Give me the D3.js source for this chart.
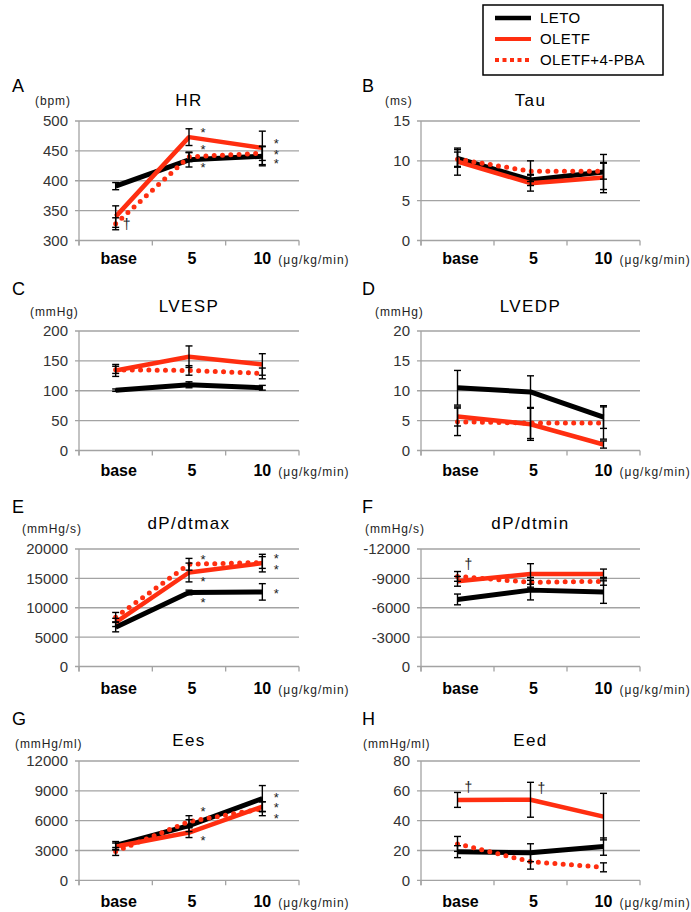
<!DOCTYPE html>
<html>
<head>
<meta charset="utf-8">
<script src="https://cdn.jsdelivr.net/npm/d3@7"></script>
<style>
  body { margin: 0; background: #fff; }
  svg text { font-family: "Liberation Sans", Arial, sans-serif; }
</style>
</head>
<body>
<div id="chart"></div>
<script>
// dose steps on the x axis, groups in draw order
var doses = ["base", "5", "10"];
var groups = ["LETO", "OLETF", "OLETF+4-PBA"];

// each *Mean / *Err is [LETO, OLETF, OLETF+4-PBA], one value per dose
var hrMean = [[391, 435, 441], [340, 473, 455], [328, 440, 446]];
var hrErr = [[6, 12, 16], [18, 14, 28], [10, 8, 12]];
var hrTicks = [300, 350, 400, 450, 500];
var hrMarks = [[1, 486, "*"], [1, 457, "*"], [1, 426, "*"], [2, 467, "*"], [2, 448, "*"], [2, 434, "*"], [0, 326, "†"]];

var tauMean = [[10.3, 7.6, 8.6], [9.9, 7.2, 7.9], [10.2, 8.7, 8.7]];
var tauErr = [[1.1, 0.7, 2.2], [1.7, 1.0, 1.9], [0.9, 1.3, 1.0]];
var tauTicks = [0, 5, 10, 15];
var tauMarks = [];

var lvespMean = [[101, 110, 105], [134, 157, 144], [135, 134, 129]];
var lvespErr = [[2, 5, 4], [10, 18, 18], [6, 8, 9]];
var lvespTicks = [0, 50, 100, 150, 200];
var lvespMarks = [];

var lvedpMean = [[10.5, 9.8, 5.6], [5.7, 4.4, 1.0], [4.8, 4.6, 4.6]];
var lvedpErr = [[2.9, 2.7, 1.9], [1.6, 2.7, 0.6], [2.3, 2.6, 2.7]];
var lvedpTicks = [0, 5, 10, 15, 20];
var lvedpMarks = [];

var dpmaxMean = [[6700, 12600, 12700], [7500, 16000, 17600], [8400, 17400, 17700]];
var dpmaxErr = [[800, 400, 1400], [700, 1600, 1500], [800, 1000, 1000]];
var dpmaxTicks = [0, 5000, 10000, 15000, 20000];
var dpmaxMarks = [[1, 18630, "*"], [1, 14870, "*"], [1, 11280, "*"], [2, 18800, "*"], [2, 16920, "*"], [2, 12820, "*"]];

var dpminMean = [[-6850, -7800, -7600], [-8700, -9450, -9450], [-9200, -8600, -8700]];
var dpminErr = [[550, 1000, 1150], [500, 1050, 500], [500, 500, 400]];
var dpminTicks = [0, -3000, -6000, -9000, -12000];
var dpminMarks = [[0, -10360, "†"]];

var eesMean = [[3500, 5500, 8230], [3400, 4800, 7400], [2900, 5900, 7200]];
var eesErr = [[400, 600, 1300], [350, 500, 500], [400, 600, 700]];
var eesTicks = [0, 3000, 6000, 9000, 12000];
var eesMarks = [[1, 7160, "*"], [1, 4240, "*"], [2, 8570, "*"], [2, 7560, "*"], [2, 6450, "*"]];

var eedMean = [[19.2, 18.5, 22.6], [53.9, 54, 42.7], [24.4, 12.5, 8.7]];
var eedErr = [[4, 6, 5.8], [5, 11.7, 15.6], [5, 5, 3]];
var eedTicks = [0, 20, 40, 60, 80];
var eedMarks = [[0, 62.3, "†"], [1, 61.2, "†"]];

var panels = [
  {letter: "A", title: "HR", unit: "(bpm)", mean: hrMean, err: hrErr, ticks: hrTicks, marks: hrMarks, col: 0, row: 0, unitX: 35},
  {letter: "B", title: "Tau", unit: "(ms)", mean: tauMean, err: tauErr, ticks: tauTicks, marks: tauMarks, col: 1, row: 0, unitX: 385},
  {letter: "C", title: "LVESP", unit: "(mmHg)", mean: lvespMean, err: lvespErr, ticks: lvespTicks, marks: lvespMarks, col: 0, row: 1, unitX: 30},
  {letter: "D", title: "LVEDP", unit: "(mmHg)", mean: lvedpMean, err: lvedpErr, ticks: lvedpTicks, marks: lvedpMarks, col: 1, row: 1, unitX: 375},
  {letter: "E", title: "dP/dtmax", unit: "(mmHg/s)", mean: dpmaxMean, err: dpmaxErr, ticks: dpmaxTicks, marks: dpmaxMarks, col: 0, row: 2, unitX: 22},
  {letter: "F", title: "dP/dtmin", unit: "(mmHg/s)", mean: dpminMean, err: dpminErr, ticks: dpminTicks, marks: dpminMarks, col: 1, row: 2, unitX: 365},
  {letter: "G", title: "Ees", unit: "(mmHg/ml)", mean: eesMean, err: eesErr, ticks: eesTicks, marks: eesMarks, col: 0, row: 3, unitX: 15},
  {letter: "H", title: "Eed", unit: "(mmHg/ml)", mean: eedMean, err: eedErr, ticks: eedTicks, marks: eedMarks, col: 1, row: 3, unitX: 363}
];

var cols = [{x0: 79, x1: 299, letterX: 12}, {x0: 421, x1: 640, letterX: 362}];
var rows = [
  {top: 121, bottom: 240.5, letterY: 92, unitY: 105, titleY: 106, catY: 264},
  {top: 331, bottom: 450.5, letterY: 295, unitY: 316, titleY: 312, catY: 476},
  {top: 549, bottom: 666.5, letterY: 513, unitY: 533, titleY: 529, catY: 694},
  {top: 761, bottom: 880.3, letterY: 725, unitY: 748, titleY: 746, catY: 907}
];

var red = "#ff2e10";
var lineStyle = [
  {stroke: "#000", width: 5, dash: null, cap: "butt"},
  {stroke: red, width: 4.5, dash: null, cap: "butt"},
  {stroke: red, width: 5, dash: "0 8.3", cap: "round"}
];
var grid = "#a3a3a3";

var svg = d3.select("#chart").append("svg")
    .attr("width", 691)
    .attr("height", 912);

panels.forEach(function (p) {
  var c = cols[p.col], r = rows[p.row];

  var x = d3.scaleBand().domain(doses).range([c.x0, c.x1]);
  var y = d3.scaleLinear()
      .domain([p.ticks[0], p.ticks[p.ticks.length - 1]])
      .range([r.bottom, r.top]);
  var cx = function (i) { return x(doses[i]) + x.bandwidth() / 2; };

  var g = svg.append("g").attr("class", "panel");

  // horizontal grid + small left ticks
  g.selectAll(".grid")
      .data(p.ticks)
    .enter().append("line")
      .attr("x1", c.x0 - 4)
      .attr("x2", c.x1)
      .attr("y1", function (d) { return y(d); })
      .attr("y2", function (d) { return y(d); })
      .attr("stroke", grid)
      .attr("stroke-width", 1.3);

  // y axis line
  g.append("line")
      .attr("x1", c.x0).attr("x2", c.x0)
      .attr("y1", r.top).attr("y2", r.bottom + 5)
      .attr("stroke", grid)
      .attr("stroke-width", 1.3);

  // x ticks at band edges
  g.selectAll(".xtick")
      .data(d3.range(doses.length + 1))
    .enter().append("line")
      .attr("x1", function (i) { return c.x0 + i * x.bandwidth(); })
      .attr("x2", function (i) { return c.x0 + i * x.bandwidth(); })
      .attr("y1", r.bottom)
      .attr("y2", r.bottom + 5)
      .attr("stroke", grid)
      .attr("stroke-width", 1.3);

  // y tick labels
  g.selectAll(".ylab")
      .data(p.ticks)
    .enter().append("text")
      .attr("x", c.x0 - 11)
      .attr("y", function (d) { return y(d); })
      .attr("dy", "0.36em")
      .attr("text-anchor", "end")
      .attr("font-size", 15)
      .attr("fill", "#333")
      .text(function (d) { return d; });

  // category labels
  g.selectAll(".xlab")
      .data(doses)
    .enter().append("text")
      .attr("x", function (d, i) { return cx(i) + (i < 2 ? 3 : 0); })
      .attr("y", r.catY)
      .attr("text-anchor", "middle")
      .attr("font-size", 16)
      .attr("font-weight", "bold")
      .text(function (d) { return d; });

  g.append("text")
      .attr("x", cx(2) + 16)
      .attr("y", r.catY)
      .attr("font-size", 12)
      .attr("letter-spacing", 1)
      .attr("fill", "#222")
      .text("(\u03bcg/kg/min)");

  // letter, unit, title
  g.append("text")
      .attr("x", c.letterX)
      .attr("y", r.letterY)
      .attr("font-size", 18)
      .text(p.letter);

  g.append("text")
      .attr("x", p.unitX)
      .attr("y", r.unitY)
      .attr("font-size", 12)
      .attr("letter-spacing", 0.9)
      .attr("fill", "#222")
      .text(p.unit);

  g.append("text")
      .attr("x", (c.x0 + c.x1) / 2)
      .attr("y", r.titleY)
      .attr("text-anchor", "middle")
      .attr("font-size", 17)
      .attr("letter-spacing", 1.4)
      .text(p.title);

  // series lines
  var line = d3.line()
      .x(function (d, i) { return cx(i); })
      .y(function (d) { return y(d); });

  p.mean.forEach(function (vals, k) {
    var s = lineStyle[k];
    g.append("path")
        .datum(vals)
        .attr("d", line)
        .attr("fill", "none")
        .attr("stroke", s.stroke)
        .attr("stroke-width", s.width)
        .attr("stroke-linecap", s.cap)
        .attr("stroke-linejoin", "round")
        .attr("stroke-dasharray", s.dash);
  });

  // error bars
  p.mean.forEach(function (vals, k) {
    vals.forEach(function (v, i) {
      var e = p.err[k][i];
      var xx = cx(i), yHi = y(v + e), yLo = y(v - e);
      var eb = g.append("g")
          .attr("stroke", "#000")
          .attr("stroke-width", 1.4);
      eb.append("line").attr("x1", xx).attr("x2", xx).attr("y1", yHi).attr("y2", yLo);
      eb.append("line").attr("x1", xx - 3.5).attr("x2", xx + 3.5).attr("y1", yHi).attr("y2", yHi);
      eb.append("line").attr("x1", xx - 3.5).attr("x2", xx + 3.5).attr("y1", yLo).attr("y2", yLo);
    });
  });

  // significance marks: the ones stacked at one dose share a single text
  var stacks = d3.groups(p.marks, function (d) { return d[0] + d[2]; });
  stacks.forEach(function (st) {
    var sym = st[1][0][2];
    var t = g.append("text")
        .attr("text-anchor", "middle")
        .attr("font-size", sym === "*" ? 13 : 14)
        .attr("fill", "#222");
    t.selectAll("tspan")
        .data(st[1])
      .enter().append("tspan")
        .attr("x", function (d) { return cx(d[0]) + (sym === "*" ? 14 : 11); })
        .attr("y", function (d) { return y(d[1]); })
        .attr("dy", sym === "*" ? "0.55em" : "0.3em")
        .text(function (d) { return d[2]; });
  });
});

// legend
var legend = svg.append("g").attr("class", "legend");
legend.append("rect")
    .attr("x", 483).attr("y", 5)
    .attr("width", 180).attr("height", 70)
    .attr("fill", "none")
    .attr("stroke", "#000")
    .attr("stroke-width", 1.5);

var legendDash = [null, null, "4 3.5"];
groups.forEach(function (name, k) {
  var ly = 18 + k * 21;
  legend.append("line")
      .attr("x1", 495).attr("x2", 531)
      .attr("y1", ly).attr("y2", ly)
      .attr("stroke", lineStyle[k].stroke)
      .attr("stroke-width", k === 0 ? 4.5 : 4)
      .attr("stroke-dasharray", legendDash[k]);
  legend.append("text")
      .attr("x", 540)
      .attr("y", ly)
      .attr("dy", "0.36em")
      .attr("font-size", 15)
      .attr("letter-spacing", 0.4)
      .text(name);
});
</script>
</body>
</html>
